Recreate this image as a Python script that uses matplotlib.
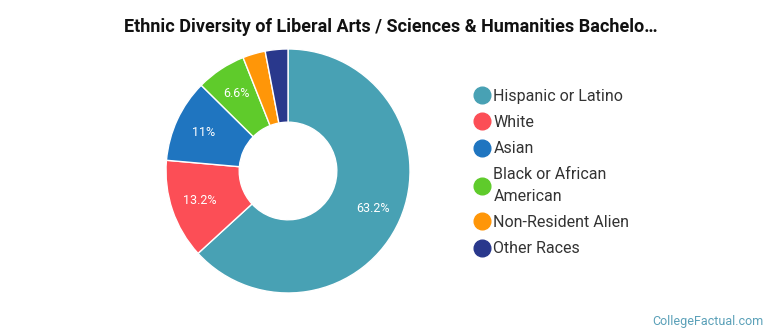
import numpy as np
import matplotlib.pyplot as plt
from matplotlib.lines import Line2D

plt.rcParams['font.family'] = ['Roboto', 'DejaVu Sans']

# Data
groups = ["Hispanic or Latino", "White", "Asian", "Black or African\nAmerican",
          "Non-Resident Alien", "Other Races"]
shares = [63.2, 13.2, 11.0, 6.6, 3.0, 3.0]
pct_labels = ["63.2%", "13.2%", "11%", "6.6%", "", ""]
colors = ["#48a1b4", "#fc4e56", "#1f75c0", "#5fcb2b", "#ff9608", "#29388c"]

fig = plt.figure(figsize=(7.7, 3.35), dpi=100)
ax = fig.add_axes([0.2156, 0.1254, 0.3169, 0.7284])

wedges, _ = ax.pie(shares, colors=colors, startangle=90, counterclock=False,
                   wedgeprops=dict(width=0.6, edgecolor="white", linewidth=1))
ax.set_xlim(-1, 1)
ax.set_ylim(-1, 1)

# percentage labels at the middle of each wedge
for w, lab in zip(wedges, pct_labels):
    if not lab:
        continue
    ang = np.deg2rad((w.theta1 + w.theta2) / 2)
    r = 0.76
    ax.text(r * np.cos(ang), r * np.sin(ang), lab, ha="center", va="center",
            color="white", fontsize=9)

handles = [Line2D([0], [0], marker="o", linestyle="", markersize=12,
                  markerfacecolor=c, markeredgecolor=c) for c in colors]
leg = fig.legend(handles, groups, loc="upper left", bbox_to_anchor=(0.595, 0.778),
                 frameon=False, fontsize=11.5, handletextpad=0.1, labelspacing=0.7,
                 handlelength=1.2)
for t in leg.get_texts():
    t.set_color("#333333")
    t.set_linespacing(1.55)

fig.text(0.508, 0.918, "Ethnic Diversity of Liberal Arts / Sciences & Humanities Bachelo\u2026",
         ha="center", va="center", fontsize=13, fontweight="bold", color="#111111")
fig.text(0.992, 0.04, "CollegeFactual.com", ha="right", va="center",
         fontsize=9, color="#5aa0b8")

fig.savefig("out.png", dpi=100)
